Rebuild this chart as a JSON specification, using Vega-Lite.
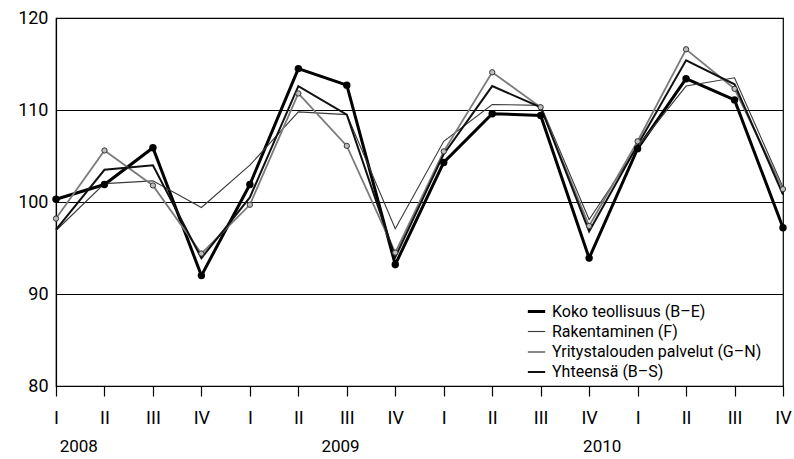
{
  "$schema": "https://vega.github.io/schema/vega-lite/v6.json",
  "width": 727,
  "height": 368,
  "autosize": {"type": "none"},
  "padding": {"left": 56, "top": 18, "right": 11, "bottom": 73},
  "background": "white",
  "config": {
    "view": {"stroke": "black", "strokeWidth": 1.2},
    "font": "Roboto, sans-serif",
    "legend": {
      "orient": "none",
      "legendX": 470,
      "legendY": 283,
      "symbolType": "stroke",
      "symbolSize": 300,
      "labelFontSize": 16,
      "labelColor": "black",
      "labelOffset": 5,
      "rowPadding": 2,
      "labelLimit": 400
    }
  },
  "datasets": {
    "main": [
      {"q": 1, "s": "Koko teollisuus (B–E)", "v": 100.3},
      {"q": 2, "s": "Koko teollisuus (B–E)", "v": 101.9},
      {"q": 3, "s": "Koko teollisuus (B–E)", "v": 105.9},
      {"q": 4, "s": "Koko teollisuus (B–E)", "v": 92.0},
      {"q": 5, "s": "Koko teollisuus (B–E)", "v": 101.9},
      {"q": 6, "s": "Koko teollisuus (B–E)", "v": 114.5},
      {"q": 7, "s": "Koko teollisuus (B–E)", "v": 112.7},
      {"q": 8, "s": "Koko teollisuus (B–E)", "v": 93.2},
      {"q": 9, "s": "Koko teollisuus (B–E)", "v": 104.3},
      {"q": 10, "s": "Koko teollisuus (B–E)", "v": 109.6},
      {"q": 11, "s": "Koko teollisuus (B–E)", "v": 109.4},
      {"q": 12, "s": "Koko teollisuus (B–E)", "v": 93.9},
      {"q": 13, "s": "Koko teollisuus (B–E)", "v": 105.8},
      {"q": 14, "s": "Koko teollisuus (B–E)", "v": 113.4},
      {"q": 15, "s": "Koko teollisuus (B–E)", "v": 111.1},
      {"q": 16, "s": "Koko teollisuus (B–E)", "v": 97.2},
      {"q": 1, "s": "Rakentaminen (F)", "v": 96.9},
      {"q": 2, "s": "Rakentaminen (F)", "v": 102.0},
      {"q": 3, "s": "Rakentaminen (F)", "v": 102.3},
      {"q": 4, "s": "Rakentaminen (F)", "v": 99.4},
      {"q": 5, "s": "Rakentaminen (F)", "v": 104.0},
      {"q": 6, "s": "Rakentaminen (F)", "v": 109.8},
      {"q": 7, "s": "Rakentaminen (F)", "v": 109.5},
      {"q": 8, "s": "Rakentaminen (F)", "v": 97.1},
      {"q": 9, "s": "Rakentaminen (F)", "v": 106.6},
      {"q": 10, "s": "Rakentaminen (F)", "v": 110.6},
      {"q": 11, "s": "Rakentaminen (F)", "v": 110.5},
      {"q": 12, "s": "Rakentaminen (F)", "v": 98.1},
      {"q": 13, "s": "Rakentaminen (F)", "v": 106.0},
      {"q": 14, "s": "Rakentaminen (F)", "v": 112.6},
      {"q": 15, "s": "Rakentaminen (F)", "v": 113.5},
      {"q": 16, "s": "Rakentaminen (F)", "v": 101.6},
      {"q": 1, "s": "Yritystalouden palvelut (G–N)", "v": 98.2},
      {"q": 2, "s": "Yritystalouden palvelut (G–N)", "v": 105.6},
      {"q": 3, "s": "Yritystalouden palvelut (G–N)", "v": 101.8},
      {"q": 4, "s": "Yritystalouden palvelut (G–N)", "v": 94.4},
      {"q": 5, "s": "Yritystalouden palvelut (G–N)", "v": 99.7},
      {"q": 6, "s": "Yritystalouden palvelut (G–N)", "v": 111.8},
      {"q": 7, "s": "Yritystalouden palvelut (G–N)", "v": 106.1},
      {"q": 8, "s": "Yritystalouden palvelut (G–N)", "v": 94.5},
      {"q": 9, "s": "Yritystalouden palvelut (G–N)", "v": 105.5},
      {"q": 10, "s": "Yritystalouden palvelut (G–N)", "v": 114.1},
      {"q": 11, "s": "Yritystalouden palvelut (G–N)", "v": 110.3},
      {"q": 12, "s": "Yritystalouden palvelut (G–N)", "v": 97.4},
      {"q": 13, "s": "Yritystalouden palvelut (G–N)", "v": 106.6},
      {"q": 14, "s": "Yritystalouden palvelut (G–N)", "v": 116.6},
      {"q": 15, "s": "Yritystalouden palvelut (G–N)", "v": 112.3},
      {"q": 16, "s": "Yritystalouden palvelut (G–N)", "v": 101.4},
      {"q": 1, "s": "Yhteensä (B–S)", "v": 97.0},
      {"q": 2, "s": "Yhteensä (B–S)", "v": 103.5},
      {"q": 3, "s": "Yhteensä (B–S)", "v": 104.0},
      {"q": 4, "s": "Yhteensä (B–S)", "v": 93.9},
      {"q": 5, "s": "Yhteensä (B–S)", "v": 100.5},
      {"q": 6, "s": "Yhteensä (B–S)", "v": 112.6},
      {"q": 7, "s": "Yhteensä (B–S)", "v": 109.5},
      {"q": 8, "s": "Yhteensä (B–S)", "v": 94.0},
      {"q": 9, "s": "Yhteensä (B–S)", "v": 105.2},
      {"q": 10, "s": "Yhteensä (B–S)", "v": 112.6},
      {"q": 11, "s": "Yhteensä (B–S)", "v": 110.3},
      {"q": 12, "s": "Yhteensä (B–S)", "v": 96.8},
      {"q": 13, "s": "Yhteensä (B–S)", "v": 106.2},
      {"q": 14, "s": "Yhteensä (B–S)", "v": 115.4},
      {"q": 15, "s": "Yhteensä (B–S)", "v": 112.8},
      {"q": 16, "s": "Yhteensä (B–S)", "v": 100.8}
    ],
    "years": [
      {"q": 1.47, "label": "2008"},
      {"q": 6.87, "label": "2009"},
      {"q": 12.27, "label": "2010"}
    ]
  },
  "layer": [
    {
      "data": {"name": "main"},
      "mark": {"type": "line", "strokeJoin": "miter"},
      "encoding": {
        "x": {
          "field": "q",
          "type": "quantitative",
          "scale": {"domain": [1, 16], "nice": false, "zero": false},
          "axis": {
            "title": null,
            "values": [1, 2, 3, 4, 5, 6, 7, 8, 9, 10, 11, 12, 13, 14, 15, 16],
            "labelExpr": "['I','II','III','IV'][(datum.value - 1) % 4]",
            "grid": false,
            "tickSize": 10,
            "tickColor": "black",
            "tickWidth": 1.2,
            "domainColor": "black",
            "domainWidth": 1.2,
            "labelFontSize": 18,
            "labelColor": "black",
            "labelPadding": 13,
            "labelFlush": false,
            "labelOverlap": false
          }
        },
        "y": {
          "field": "v",
          "type": "quantitative",
          "scale": {"domain": [80, 120], "nice": false, "zero": false},
          "axis": {
            "title": null,
            "values": [80, 90, 100, 110, 120],
            "grid": true,
            "gridColor": "black",
            "gridWidth": 1.1,
            "gridOpacity": 1,
            "ticks": false,
            "domainColor": "black",
            "domainWidth": 1.2,
            "labelFontSize": 18,
            "labelColor": "black",
            "labelPadding": 8
          }
        },
        "color": {
          "field": "s",
          "type": "nominal",
          "scale": {
            "domain": ["Koko teollisuus (B–E)", "Rakentaminen (F)", "Yritystalouden palvelut (G–N)", "Yhteensä (B–S)"],
            "range": ["#000000", "#3a3a3a", "#7a7a7a", "#111111"]
          },
          "legend": {"title": null}
        },
        "strokeWidth": {
          "field": "s",
          "type": "nominal",
          "scale": {
            "type": "ordinal",
            "domain": ["Koko teollisuus (B–E)", "Rakentaminen (F)", "Yritystalouden palvelut (G–N)", "Yhteensä (B–S)"],
            "range": [3, 1.1, 1.8, 2]
          },
          "legend": {"title": null}
        }
      }
    },
    {
      "data": {"name": "main"},
      "transform": [{"filter": "datum.s === 'Koko teollisuus (B–E)'"}],
      "mark": {"type": "point", "filled": true, "color": "black", "size": 55, "opacity": 1},
      "encoding": {
        "x": {"field": "q", "type": "quantitative"},
        "y": {"field": "v", "type": "quantitative"}
      }
    },
    {
      "data": {"name": "main"},
      "transform": [{"filter": "datum.s === 'Yritystalouden palvelut (G–N)'"}],
      "mark": {"type": "point", "filled": true, "fill": "#bdbdbd", "stroke": "#333333", "strokeWidth": 1, "size": 28, "opacity": 1},
      "encoding": {
        "x": {"field": "q", "type": "quantitative"},
        "y": {"field": "v", "type": "quantitative"}
      }
    },
    {
      "data": {"name": "years"},
      "mark": {"type": "text", "fontSize": 17, "color": "black", "align": "center", "baseline": "middle"},
      "encoding": {
        "x": {"field": "q", "type": "quantitative"},
        "y": {"datum": 73.4, "type": "quantitative"},
        "text": {"field": "label"}
      }
    }
  ]
}
